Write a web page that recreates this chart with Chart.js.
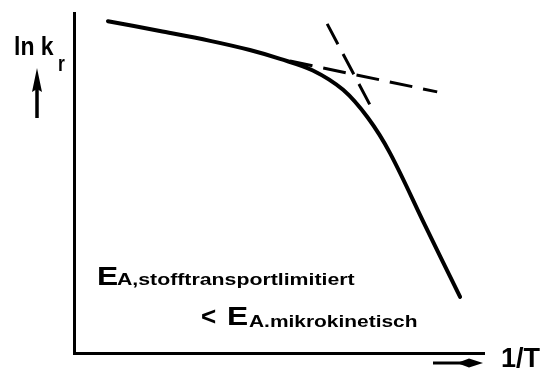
<!DOCTYPE html>
<html>
<head>
<meta charset="utf-8">
<script src="https://cdn.jsdelivr.net/npm/chart.js@4.4.1/dist/chart.umd.min.js"></script>
<style>
  html, body { margin: 0; padding: 0; background: #fff; }
  #wrap { position: relative; width: 548px; height: 373px; overflow: hidden; }
  #c { position: absolute; left: 0; top: 0; }
  .lbl { position: absolute; font-family: "Liberation Sans", Arial, sans-serif; font-weight: bold;
         color: #000; white-space: nowrap; transform-origin: 0 0; margin: 0; padding: 0; }
</style>
</head>
<body>
<div id="wrap">
  <canvas id="c" width="548" height="373"></canvas>
</div>
<script>
// Arrhenius plot: ln k_r over 1/T (arbitrary units, 0..100 on both axes)
const invT = [8.3, 21.0, 33.3, 43.0, 50.4, 58.4, 65.8, 71.9, 77.3, 85.8, 94.4];
const lnK  = [97.6, 94.7, 91.8, 89.1, 86.5, 83.1, 77.4, 69.1, 58.7, 37.6, 16.5];

// tangent of the mass-transport limited (flat) branch
const transportX = [52.8, 88.8];
const transportY = [85.9, 76.8];

// tangent of the kinetically controlled (steep) branch
const kineticX = [61.9, 72.4];
const kineticY = [96.8, 72.9];

const axisRange = [0, 100];

// text labels
const yLabel = 'ln k';
const yLabelSub = 'r';
const xLabel = '1/T';
const relMain = 'E';
const relSub1 = 'A,stofftransportlimitiert';
const relLess = '<';
const relSub2 = 'A.mikrokinetisch';

const toPoints = (xs, ys) => xs.map((x, i) => ({ x: x, y: ys[i] }));

// small arrows next to the axis labels
const axisArrows = {
  id: 'axisArrows',
  afterDraw(chart) {
    const { ctx, chartArea: a } = chart;
    ctx.save();
    ctx.fillStyle = '#000';
    ctx.strokeStyle = '#000';
    ctx.lineCap = 'butt';

    // upward arrow under "ln k_r"
    const ux = a.left - 37, tip = a.top + 55;
    ctx.lineWidth = 3.5;
    ctx.beginPath(); ctx.moveTo(ux, tip + 18); ctx.lineTo(ux, tip + 50); ctx.stroke();
    ctx.beginPath();
    ctx.moveTo(ux, tip);
    ctx.lineTo(ux + 5, tip + 24);
    ctx.lineTo(ux, tip + 21);
    ctx.lineTo(ux - 5, tip + 24);
    ctx.closePath(); ctx.fill();

    // rightward arrow before "1/T"
    const ry = a.bottom + 10, rt = a.right;
    ctx.lineWidth = 3;
    ctx.beginPath(); ctx.moveTo(rt - 50, ry); ctx.lineTo(rt - 18, ry); ctx.stroke();
    ctx.beginPath();
    ctx.moveTo(rt, ry);
    ctx.lineTo(rt - 14, ry - 4.5);
    ctx.lineTo(rt - 26, ry);
    ctx.lineTo(rt - 14, ry + 4.5);
    ctx.closePath(); ctx.fill();
    ctx.restore();
  }
};

const axisOpts = {
  type: 'linear',
  min: axisRange[0],
  max: axisRange[1],
  ticks: { display: false },
  grid: { display: true, drawOnChartArea: false, drawTicks: false, color: '#000', lineWidth: 3 },
  border: { display: true, color: '#000', width: 3 }
};

const chart = new Chart(document.getElementById('c'), {
  type: 'scatter',
  data: {
    datasets: [
      {
        data: toPoints(invT, lnK),
        showLine: true,
        borderColor: '#000',
        borderWidth: 4,
        pointRadius: 0,
        tension: 0.35,
        borderCapStyle: 'round',
        borderJoinStyle: 'round'
      },
      {
        data: toPoints(transportX, transportY),
        showLine: true,
        borderColor: '#000',
        borderWidth: 3,
        borderDash: [23, 11],
        pointRadius: 0
      },
      {
        data: toPoints(kineticX, kineticY),
        showLine: true,
        borderColor: '#000',
        borderWidth: 3,
        borderDash: [23, 11],
        pointRadius: 0
      }
    ]
  },
  options: {
    responsive: false,
    animation: false,
    layout: { padding: { left: 74, top: 13, right: 65, bottom: 20 } },
    plugins: { legend: { display: false }, tooltip: { enabled: false } },
    scales: { x: axisOpts, y: axisOpts }
  },
  plugins: [axisArrows]
});

// HTML labels: placed by baseline, optionally stretched horizontally
const wrap = document.getElementById('wrap');
function addLabel(text, size, x, baseline, stretch) {
  const el = document.createElement('div');
  el.className = 'lbl';
  el.textContent = text;
  el.style.fontSize = size + 'px';
  el.style.lineHeight = size + 'px';
  el.style.left = x + 'px';
  el.style.top = (baseline - 0.8465 * size) + 'px';
  if (stretch) el.style.transform = 'scaleX(' + stretch + ')';
  wrap.appendChild(el);
  return el;
}

const a = chart.chartArea;
addLabel(yLabel, 25, a.left - 60, a.top + 42, 0.92);
addLabel(yLabelSub, 22, a.left - 16, a.top + 59, 0.8);
addLabel(xLabel, 27, a.right + 18, a.bottom + 15, 1);

addLabel(relMain, 26, 97, 285, 1.22);
addLabel(relSub1, 16, 117, 286, 1.33);
addLabel(relLess, 26, 201, 325, 1);
addLabel(relMain, 26, 227, 325, 1.22);
addLabel(relSub2, 17, 249, 327, 1.23);
</script>
</body>
</html>
